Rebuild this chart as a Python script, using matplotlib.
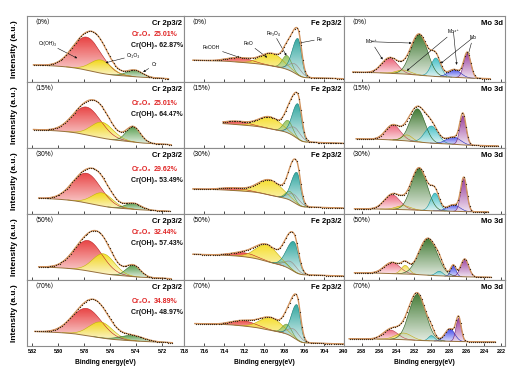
import numpy as np
import matplotlib
matplotlib.use('Agg')
import matplotlib.pyplot as plt
from matplotlib.colors import LinearSegmentedColormap, to_rgb
from matplotlib.patches import PathPatch
from matplotlib.path import Path

plt.rcParams['font.family'] = ['Liberation Sans', 'DejaVu Sans', 'Noto Sans CJK SC']

# ---------------- data ----------------
row_labels = ['（0%）', '（15%）', '（30%）', '（50%）', '（70%）']

# Cr 2p3/2 : Cr(OH)3, Cr2O3, Cr
cr_colors = ['#e62a2a', '#f2e00c', '#3f8f34']
cr_center = [[577.8, 576.7, 574.1], [577.8, 576.6, 574.2], [577.8, 576.6, 574.2],
             [577.7, 576.5, 574.2], [577.8, 576.7, 574.3]]
cr_amp = [[0.50, 0.20, 0.10], [0.42, 0.24, 0.23], [0.45, 0.20, 0.09],
          [0.46, 0.30, 0.17], [0.41, 0.24, 0.08]]
cr_sigma = [[1.1, 0.8, 0.6], [1.1, 0.85, 0.55], [1.1, 0.8, 0.6],
            [1.1, 0.85, 0.55], [1.15, 0.9, 0.9]]
cr_bg = [[0.26, 0.05], [0.28, 0.05], [0.24, 0.04], [0.20, 0.02], [0.22, 0.05]]
cr_range = [[571.5, 581.9], [571.3, 581.9], [571.4, 581.5], [571.3, 581.5], [571.2, 581.8]]
cr_cr2o3 = ['25.01%', '25.01%', '29.62%', '32.44%', '34.89%']
cr_croh3 = ['62.87%', '64.47%', '53.49%', '57.43%', '48.97%']

# Fe 2p3/2 : FeOOH, FeO, Fe3O4, satellite, Fe
fe_colors = ['#e8302a', '#f4da12', '#86bd48', '#bfa9a3', '#179c94']
fe_center = [[712.4, 709.2, 707.7, 706.9, 706.6], [712.7, 709.4, 707.6, 706.9, 706.6],
             [713.0, 709.4, 707.4, 707.0, 706.7], [712.0, 709.7, 708.0, 707.3, 707.0],
             [712.0, 709.3, 707.7, 707.0, 706.7]]
fe_amp = [[0.07, 0.19, 0.21, 0.14, 0.55], [0.05, 0.18, 0.19, 0.14, 0.53],
          [0.04, 0.23, 0.13, 0.12, 0.48], [0.06, 0.25, 0.06, 0.12, 0.45],
          [0.08, 0.19, 0.15, 0.13, 0.53]]
fe_sigma = [[1.2, 1.1, 0.45, 0.6, 0.35], [1.2, 1.1, 0.45, 0.6, 0.35],
            [1.2, 1.2, 0.45, 0.6, 0.35], [1.2, 1.1, 0.45, 0.6, 0.45],
            [1.2, 1.1, 0.45, 0.6, 0.35]]
fe_tail = [1.0, 1.0, 1.0, 1.0, 1.6]
fe_bg = [[0.33, 0.05], [0.37, 0.07], [0.38, 0.09], [0.39, 0.06], [0.34, 0.03]]
fe_range = [[702.1, 717.1], [702.1, 714.1], [702.1, 717.1], [702.1, 717.1], [702.0, 716.9]]

# Mo 3d : Mo6+(3/2), Mo4+(3/2), Mo6+(5/2), Mo(3/2), Mo4+, Mo
mo_colors = ['#ea4d66', '#f2d41a', '#2c6b1c', '#25b7be', '#2b35e8', '#8a2290']
mo_center = [[234.8, 233.2, 231.4, 229.5, 227.4, 225.9], [234.4, 232.8, 231.6, 230.0, 227.5, 226.4],
             [234.5, 233.2, 231.4, 229.6, 227.5, 226.3], [234.5, 233.0, 230.4, 229.1, 227.5, 226.2],
             [234.7, 233.2, 231.6, 230.0, 227.9, 226.9]]
mo_amp = [[0.23, 0.06, 0.62, 0.28, 0.12, 0.38], [0.23, 0.09, 0.50, 0.26, 0.11, 0.44],
          [0.22, 0.06, 0.64, 0.27, 0.10, 0.50], [0.17, 0.13, 0.56, 0.07, 0.16, 0.27],
          [0.14, 0.10, 0.70, 0.08, 0.19, 0.35]]
mo_sigma = [[0.9, 0.8, 0.95, 0.55, 0.7, 0.4], [0.85, 0.6, 0.85, 0.75, 0.8, 0.35],
            [0.9, 0.8, 0.9, 0.5, 0.7, 0.35], [0.9, 0.45, 1.05, 0.4, 0.3, 0.45],
            [0.85, 0.9, 0.95, 0.35, 0.55, 0.3]]
mo_bg = [[0.15, 0.05], [0.14, 0.03], [0.08, 0.03], [0.11, 0.04], [0.11, 0.06]]
mo_range = [[223.3, 239.0], [222.4, 238.6], [223.5, 238.8], [223.2, 238.8], [222.7, 239.4]]

col_titles = ['Cr 2p3/2', 'Fe 2p3/2', 'Mo 3d']
col_xlim = [(582.4, 570.3), (718, 702), (240, 221.6)]
col_ticks = [[582, 580, 578, 576, 574, 572], [718, 716, 714, 712, 710, 708, 706, 704],
             [240, 238, 236, 234, 232, 230, 228, 226, 224, 222]]
col_shirley = [0.5, 0.8, 0.5]

# ---------------- drawing ----------------
W, H = 530, 370
fig = plt.figure(figsize=(W / 100, H / 100), dpi=100)
col_left = [27, 184, 344]
col_w = [157, 160, 161]
row_top0, row_h = 16, 66


def peak(x, c, a, s, t=1.0):
    sig = np.where(x > c, s * t, s)
    return a * np.exp(-0.5 * ((x - c) / sig) ** 2)


def draw_panel(ax, rng, centers, amps, sigmas, tails, colors, bgl, bgr, w):
    lo, hi = rng
    x = np.linspace(lo, hi, 500)
    comps = [peak(x, c, a, s, t) for c, a, s, t in zip(centers, amps, sigmas, tails)]
    total = np.sum(comps, axis=0)
    cum = np.cumsum(total)
    cum /= cum[-1]
    lin = (x - lo) / (hi - lo)
    frac = w * cum + (1 - w) * lin
    bg = bgr + (bgl - bgr) * frac
    for comp, col in zip(comps, colors):
        m = comp > 0.004 * comp.max()
        xs = x[m]
        top = bg[m] + comp[m]
        bot = bg[m]
        verts = np.concatenate([np.column_stack([xs, top]),
                                np.column_stack([xs[::-1], bot[::-1]])])
        patch = PathPatch(Path(verts), facecolor='none', edgecolor='none',
                          transform=ax.transData)
        ax.add_patch(patch)
        rgb = np.array(to_rgb(col))
        light = rgb + (1 - rgb) * 0.85
        cmap = LinearSegmentedColormap.from_list('g', [light, rgb])
        grad = np.linspace(0, 1, 64).reshape(-1, 1)
        im = ax.imshow(grad, extent=[xs.min(), xs.max(), bot.min(), top.max()],
                       origin='lower', aspect='auto', cmap=cmap, alpha=0.88, zorder=2)
        im.set_clip_path(patch)
        ax.plot(xs, top, color=rgb * 0.8, lw=0.4, zorder=3)
    env = bg + total
    ax.plot(x, bg, color='#96703c', lw=0.7, zorder=4)
    ax.plot(x, env, color='#d0935e', lw=1.0, zorder=5)
    ax.plot(x[::7], env[::7], 'o', ms=0.9, mew=0, color='#3a2a1a', zorder=6)


axes = []
for r in range(5):
    row = []
    top = row_top0 + r * row_h
    for c in range(3):
        ax = fig.add_axes([col_left[c] / W, 1 - (top + row_h) / H, col_w[c] / W, row_h / H])
        ax.set_xlim(*col_xlim[c])
        ax.set_ylim(0, 1)
        ax.set_yticks([])
        ax.set_xticks(col_ticks[c])
        ax.tick_params(axis='x', direction='in', length=2, width=0.5, labelsize=4,
                       pad=2, labelbottom=(r == 4))
        for lab in ax.get_xticklabels():
            lab.set_fontweight('bold')
        for sp in ax.spines.values():
            sp.set_color('#8c8c8c')
            sp.set_linewidth(0.8)
        ax.text(0.03, 0.89, row_labels[r], transform=ax.transAxes, fontsize=4.7,
                va='center', ha='left')
        ax.text(0.985, 0.89, col_titles[c], transform=ax.transAxes, fontsize=5.5,
                fontweight='bold', va='center', ha='right')
        row.append(ax)
    axes.append(row)

    draw_panel(row[0], cr_range[r], cr_center[r], cr_amp[r], cr_sigma[r], [1, 1, 1],
               cr_colors, *cr_bg[r], col_shirley[0])
    draw_panel(row[1], fe_range[r], fe_center[r], fe_amp[r], fe_sigma[r], fe_tail,
               fe_colors, *fe_bg[r], col_shirley[1])
    draw_panel(row[2], mo_range[r], mo_center[r], mo_amp[r], mo_sigma[r], [1] * 6,
               mo_colors, *mo_bg[r], col_shirley[2])

    a0 = row[0]
    ty1 = 0.72 if r in (0, 3) else 0.68
    ty2 = 0.55 if r in (0, 3) else 0.50
    a0.text(0.665, ty1, 'Cr₂O₃', transform=a0.transAxes, fontsize=5, fontweight='bold',
            color='#e02424', va='center')
    a0.text(0.81, ty1, cr_cr2o3[r], transform=a0.transAxes, fontsize=5, fontweight='bold',
            color='#e02424', va='center')
    a0.text(0.665, ty2, 'Cr(OH)₃ ' + cr_croh3[r], transform=a0.transAxes, fontsize=5,
            fontweight='bold', color='#111111', va='center')

    fig.text(15 / W, 1 - (top + row_h / 2) / H, 'Intensity (a.u.)', rotation=90,
             fontsize=6, fontweight='bold', ha='center', va='center')

for c in range(3):
    fig.text((col_left[c] + col_w[c] / 2) / W, 1 - 363 / H, 'Binding energy(eV)',
             fontsize=4.8, fontweight='bold', ha='center', va='center')

# annotations in first row
ap = dict(arrowstyle='-|>', lw=0.4, color='#111111', mutation_scale=3, shrinkA=0, shrinkB=0)
fs = 3.6
a = axes[0][0]
a.annotate('Cr(OH)₃', xy=(0.32, 0.36), xytext=(0.13, 0.59), xycoords='axes fraction',
           textcoords='axes fraction', fontsize=fs, ha='center', va='center', arrowprops=ap)
a.annotate('Cr₂O₃', xy=(0.50, 0.29), xytext=(0.68, 0.40), xycoords='axes fraction',
           textcoords='axes fraction', fontsize=fs, ha='center', va='center', arrowprops=ap)
a.annotate('Cr', xy=(0.74, 0.15), xytext=(0.81, 0.26), xycoords='axes fraction',
           textcoords='axes fraction', fontsize=fs, ha='center', va='center', arrowprops=ap)
a = axes[0][1]
for txt, tip, pos in [('FeOOH', (0.35, 0.37), (0.17, 0.52)), ('FeO', (0.52, 0.37), (0.40, 0.59)),
                      ('Fe₃O₄', (0.64, 0.40), (0.56, 0.74)), ('Fe', (0.72, 0.59), (0.85, 0.65))]:
    a.annotate(txt, xy=tip, xytext=pos, xycoords='axes fraction', textcoords='axes fraction',
               fontsize=fs, ha='center', va='center', arrowprops=ap)
a = axes[0][2]
for txt, tips, pos in [('Mo⁶⁺', [(0.24, 0.34), (0.42, 0.59)], (0.17, 0.61)),
                       ('Mo⁴⁺', [(0.39, 0.17), (0.70, 0.26)], (0.68, 0.76)),
                       ('Mo', [(0.77, 0.40), (0.60, 0.28)], (0.80, 0.67))]:
    for k, tip in enumerate(tips):
        a.annotate(txt if k == 0 else '', xy=tip, xytext=pos, xycoords='axes fraction',
                   textcoords='axes fraction', fontsize=fs, ha='center', va='center',
                   arrowprops=ap)

fig.savefig('out.png', dpi=100)
